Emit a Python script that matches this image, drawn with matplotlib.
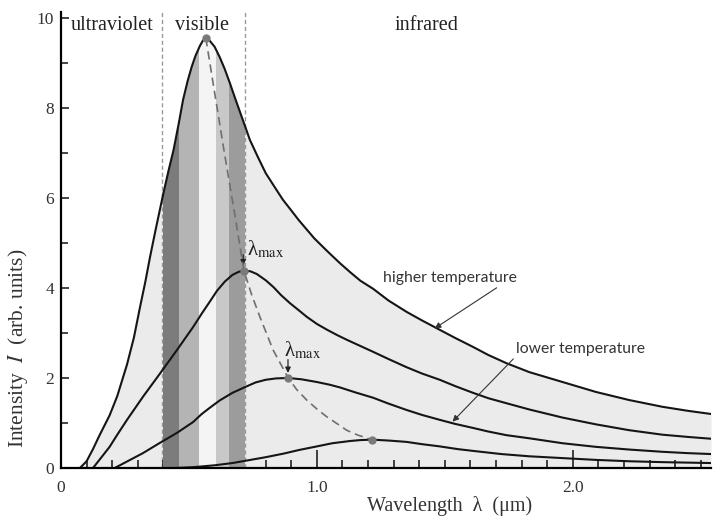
import matplotlib
matplotlib.use("Agg")
import matplotlib.pyplot as plt
from matplotlib.ticker import MultipleLocator, FixedLocator, FuncFormatter

# curves (wavelength in um, intensity in arb. units)
c1_x = [0.074, 0.10, 0.125, 0.15, 0.19, 0.22, 0.258, 0.285, 0.309, 0.33, 0.348, 0.37, 0.40,
        0.42, 0.44, 0.46, 0.477, 0.495, 0.51, 0.525, 0.543, 0.555, 0.566, 0.58, 0.60, 0.62,
        0.64, 0.66, 0.68, 0.70, 0.72, 0.738, 0.77, 0.80, 0.835, 0.867, 0.90, 0.93, 0.96, 0.99,
        1.04, 1.09, 1.13, 1.17, 1.22, 1.28, 1.35, 1.41, 1.47, 1.54, 1.61, 1.67, 1.74, 1.83,
        1.96, 2.09, 2.22, 2.35, 2.45, 2.54]
c1_y = [0.0, 0.15, 0.42, 0.72, 1.17, 1.6, 2.3, 2.9, 3.58, 4.15, 4.69, 5.3, 6.1,
        6.6, 7.07, 7.65, 8.18, 8.6, 8.9, 9.15, 9.38, 9.5, 9.55, 9.5, 9.36, 9.13,
        8.86, 8.55, 8.22, 7.9, 7.58, 7.29, 6.9, 6.55, 6.24, 5.96, 5.72, 5.5, 5.3, 5.1,
        4.82, 4.55, 4.35, 4.16, 3.98, 3.72, 3.47, 3.28, 3.1, 2.89, 2.69, 2.51, 2.33, 2.13,
        1.91, 1.69, 1.51, 1.36, 1.27, 1.2]

c2_x = [0.125, 0.15, 0.19, 0.22, 0.258, 0.32, 0.387, 0.453, 0.516, 0.55, 0.582, 0.61, 0.64,
        0.67, 0.695, 0.715, 0.74, 0.765, 0.80, 0.83, 0.86, 0.895, 0.93, 0.96, 1.0, 1.04, 1.08,
        1.12, 1.17, 1.22, 1.28, 1.35, 1.41, 1.48, 1.54, 1.61, 1.67, 1.74, 1.83, 1.96, 2.09,
        2.22, 2.35, 2.45, 2.54]
c2_y = [0.0, 0.18, 0.47, 0.74, 1.07, 1.58, 2.1, 2.62, 3.13, 3.43, 3.7, 3.94, 4.14,
        4.29, 4.36, 4.38, 4.37, 4.31, 4.17, 4.02, 3.84, 3.66, 3.5, 3.36, 3.2, 3.07, 2.95,
        2.84, 2.71, 2.58, 2.42, 2.24, 2.1, 1.96, 1.82, 1.67, 1.55, 1.44, 1.30, 1.12, 0.97,
        0.84, 0.74, 0.69, 0.65]

c3_x = [0.21, 0.26, 0.32, 0.387, 0.453, 0.516, 0.55, 0.582, 0.62, 0.67, 0.72, 0.76, 0.80,
        0.84, 0.888, 0.94, 1.0, 1.05, 1.09, 1.15, 1.22, 1.28, 1.35, 1.41, 1.48, 1.54, 1.61,
        1.67, 1.74, 1.83, 1.96, 2.09, 2.22, 2.35, 2.45, 2.54]
c3_y = [0.0, 0.15, 0.33, 0.56, 0.78, 1.02, 1.2, 1.34, 1.5, 1.67, 1.8, 1.9, 1.96,
        1.99, 2.0, 1.97, 1.91, 1.85, 1.79, 1.68, 1.56, 1.43, 1.29, 1.18, 1.07, 0.98, 0.89,
        0.81, 0.73, 0.66, 0.55, 0.47, 0.41, 0.36, 0.33, 0.31]

c4_x = [0.45, 0.52, 0.6, 0.67, 0.73, 0.80, 0.87, 0.93, 1.0, 1.06, 1.13, 1.17, 1.215, 1.28,
        1.35, 1.41, 1.48, 1.55, 1.61, 1.72, 1.83, 1.96, 2.09, 2.22, 2.35, 2.54]
c4_y = [0.0, 0.02, 0.06, 0.11, 0.17, 0.24, 0.32, 0.4, 0.48, 0.55, 0.6, 0.62, 0.63, 0.61,
        0.58, 0.53, 0.48, 0.42, 0.38, 0.31, 0.26, 0.22, 0.18, 0.15, 0.13, 0.11]

# dashed line through the maxima
wien_x = [0.566, 0.60, 0.64, 0.68, 0.715, 0.745, 0.777, 0.829, 0.888, 0.92, 0.96, 1.0,
          1.038, 1.08, 1.116, 1.16, 1.215]
wien_y = [9.55, 8.35, 6.95, 5.6, 4.38, 3.85, 3.36, 2.62, 2.0, 1.75, 1.51, 1.31,
          1.14, 0.98, 0.84, 0.73, 0.63]
peak_x = [0.566, 0.715, 0.888, 1.215]
peak_y = [9.55, 4.38, 2.0, 0.63]

# shaded bands of the visible range
band_edges = [0.40, 0.46, 0.54, 0.605, 0.655, 0.72]
band_colors = ["#7c7c7c", "#b4b4b4", "#f4f4f4", "#c8c8c8", "#9c9c9c"]
region_lines = [0.395, 0.72]
region_names = ["ultraviolet", "visible", "infrared"]
region_pos = [0.2, 0.55, 1.43]

plt.rcParams["mathtext.fontset"] = "stix"
serif = "Liberation Serif"

fig = plt.figure(figsize=(7.18, 5.21), dpi=100)
ax = fig.add_axes([61 / 718, 53 / 521, 650 / 718, 456 / 521])
ax.set_xlim(0, 2.54)
ax.set_ylim(0, 10.13)

bg = ax.fill_between(c1_x, c1_y, 0, color="#ebebeb", lw=0, zorder=1)
clip = bg.get_paths()[0]

for x in region_lines:
    ax.axvline(x, color="#9a9a9a", lw=1.0, ls=(0, (3, 2)), zorder=1.5)

for i, c in enumerate(band_colors):
    span = ax.axvspan(band_edges[i], band_edges[i + 1], color=c, lw=0, zorder=2)
    span.set_clip_path(clip, ax.transData)

for xs, ys in [(c1_x, c1_y), (c2_x, c2_y), (c3_x, c3_y), (c4_x, c4_y)]:
    ax.plot(xs, ys, color="#151515", lw=1.5, zorder=3, solid_joinstyle="round")

ax.plot(wien_x, wien_y, color="#6f6f6f", lw=1.2, ls=(0, (5, 3)), zorder=4)
ax.plot(peak_x, peak_y, "o", color="#7a7a7a", ms=5, zorder=5)

for name, x in zip(region_names, region_pos):
    ax.text(x, 9.84, name, ha="center", va="center", fontsize=14.5, family=serif, color="#222")

# lambda max labels with little arrows
lam = "λ$_{\\mathrm{max}}$"
ax.text(0.727, 4.85, lam, fontsize=15, family=serif, ha="left", va="center", color="#222")
ax.annotate("", xy=(0.712, 4.44), xytext=(0.712, 4.80),
            arrowprops=dict(arrowstyle="-|>", color="#222", lw=0.9, mutation_scale=8))
ax.text(0.872, 2.62, lam, fontsize=15, family=serif, ha="left", va="center", color="#222")
ax.annotate("", xy=(0.887, 2.05), xytext=(0.887, 2.47),
            arrowprops=dict(arrowstyle="-|>", color="#222", lw=0.9, mutation_scale=8))

ax.annotate("higher temperature", xy=(1.46, 3.1), xytext=(1.52, 4.22),
            ha="center", va="center", fontsize=11.3, family="Lato", color="#333",
            arrowprops=dict(arrowstyle="-|>", color="#333", lw=0.8, mutation_scale=9,
                            shrinkA=0, shrinkB=0, relpos=(0.88, 0.0)))
ax.annotate("lower temperature", xy=(1.53, 1.03), xytext=(2.03, 2.64),
            ha="center", va="center", fontsize=11.3, family="Lato", color="#333",
            arrowprops=dict(arrowstyle="-|>", color="#333", lw=0.8, mutation_scale=9,
                            shrinkA=0, shrinkB=0, relpos=(0.0, 0.0)))

# axes styling
for s in ["top", "right"]:
    ax.spines[s].set_visible(False)
for s in ["left", "bottom"]:
    ax.spines[s].set_linewidth(1.6)
    ax.spines[s].set_zorder(6)

ax.yaxis.set_major_locator(MultipleLocator(2))
ax.yaxis.set_minor_locator(MultipleLocator(1))
ax.xaxis.set_major_locator(FixedLocator([0, 1, 2]))
ax.xaxis.set_minor_locator(MultipleLocator(0.1))
ax.xaxis.set_major_formatter(FuncFormatter(lambda v, p: "0" if v == 0 else f"{v:.1f}"))
ax.tick_params(axis="both", which="both", direction="in", color="#111", width=1.1)
ax.tick_params(axis="y", which="major", length=6, pad=5)
ax.tick_params(axis="y", which="minor", length=5)
ax.tick_params(axis="x", which="major", length=13, pad=9)
ax.tick_params(axis="x", which="minor", length=5.5)
for lab in ax.get_xticklabels() + ax.get_yticklabels():
    lab.set_family(serif)
    lab.set_fontsize(12.5)
    lab.set_color("#333")

sec = ax.secondary_xaxis(0)
sec.xaxis.set_major_locator(FixedLocator([0.5, 1.5, 2.5]))
sec.tick_params(axis="x", direction="in", length=9.5, width=1.1, color="#111", labelbottom=False)
sec.spines["bottom"].set_visible(False)

ax.set_xlabel("Wavelength  λ  (μm)", family=serif, fontsize=14.5, color="#333")
ax.xaxis.set_label_coords(0.598, -0.062)
ax.set_ylabel(r"Intensity  $I$  (arb. units)", family=serif, fontsize=15.5, color="#333")
ax.yaxis.set_label_coords(-0.047, 0.263)

fig.savefig("out.png", dpi=100)
